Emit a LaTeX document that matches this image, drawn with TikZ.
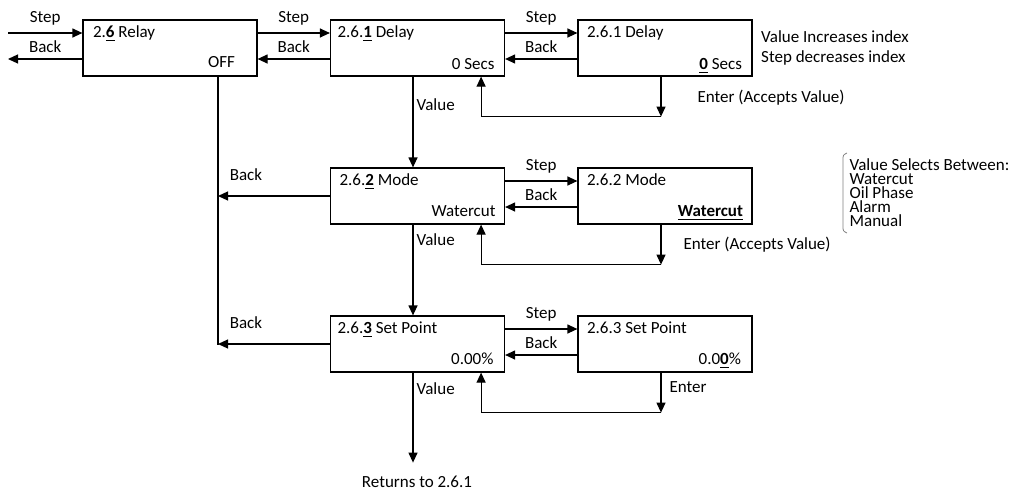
\documentclass[tikz,border=0pt]{standalone}
\usepackage{fontspec}
\setmainfont{Carlito}
\usetikzlibrary{arrows.meta}

% selected digit / field in a screen
\newcommand{\sel}[1]{\underline{\textbf{#1}}}

\tikzset{
  menubox/.style={draw, minimum width=87pt, minimum height=28pt, inner sep=0pt},
  title/.style={anchor=base west, inner sep=0pt},
  field/.style={anchor=base east, inner sep=0pt},
  steplbl/.style={midway, anchor=base, inner sep=0pt, yshift=5.25pt},
  backlbl/.style={midway, anchor=base, inner sep=0pt, yshift=3.5pt},
  note/.style={anchor=base west, inner sep=0pt},
}

\begin{document}
\begin{tikzpicture}[x=0.5pt, y=-0.5pt, line width=0.6pt,
    font=\fontsize{8.5}{10}\selectfont,
    >={Triangle[length=5pt,width=4.5pt]}]
	\useasboundingbox (0,0) rectangle (1021,493);

	% menu screens
	\node[menubox] (relay) at (170,48) {};
	\node[menubox] (delay) at (417.5,48) {};
	\node[menubox] (mode) at (417.5,196) {};
	\node[menubox] (setpt) at (417.5,344) {};
	% edit screens
	\node[menubox] (delayed) at (665,48) {};
	\node[menubox] (modeed) at (665,196) {};
	\node[menubox] (setpted) at (665,344) {};

	% screen texts
	\node[title] (relayt) at ([shift={(10,18)}]relay.north west) {2.\sel{6} Relay};
	\node[field] (relayv) at ([shift={(-22,-9)}]relay.south east) {OFF};
	\node[title] (delayt) at ([shift={(7,18)}]delay.north west) {2.6.\sel{1} Delay};
	\node[field] (delayv) at ([shift={(-10,-7)}]delay.south east) {0 Secs};
	\node[title] (delayedt) at ([shift={(9,18)}]delayed.north west) {2.6.1 Delay};
	\node[field] (delayedv) at ([shift={(-10,-7)}]delayed.south east) {\sel{0} Secs};
	\node[title] (modet) at ([shift={(9,18)}]mode.north west) {2.6.\sel{2} Mode};
	\node[field] (modev) at ([shift={(-9,-8)}]mode.south east) {Watercut};
	\node[title] (modeedt) at ([shift={(9,18)}]modeed.north west) {2.6.2 Mode};
	\node[field] (modeedv) at ([shift={(-9,-8)}]modeed.south east) {\sel{Watercut}};
	\node[title] (setptt) at ([shift={(7,18)}]setpt.north west) {2.6.\sel{3} Set Point};
	\node[field] (setptv) at ([shift={(-11,-8)}]setpt.south east) {0.00\%};
	\node[title] (setptedt) at ([shift={(9,18)}]setpted.north west) {2.6.3 Set Point};
	\node[field] (setptedv) at ([shift={(-11,-8)}]setpted.south east) {0.0\sel{0}\%};

	% entry into the relay menu
	\coordinate (stepin) at (8,33);
	\coordinate (backout) at (8,59);
	\draw[->] (stepin) -- (stepin -| relay.west) node[steplbl] {Step};
	\draw[->] (backout -| relay.west) -- (backout) node[backlbl] {Back};

	% step / back between screens
	\foreach \a/\b in {relay/delay, delay/delayed, mode/modeed, setpt/setpted} {
		\draw[->] ([yshift=7.5pt]\a.east) -- ([yshift=7.5pt]\b.west) node[steplbl] {Step};
		\draw[->] ([yshift=-5.5pt]\b.west) -- ([yshift=-5.5pt]\a.east) node[backlbl] {Back};
	}

	% value moves down the list
	\draw[->] ([xshift=-2.25pt]delay.south) -- ([xshift=-2.25pt]mode.north)
		node[pos=0.37, anchor=base west, inner sep=0pt, xshift=1.5pt] {Value};
	\draw[->] ([xshift=-2.25pt]mode.south) -- ([xshift=-2.25pt]setpt.north)
		node[pos=0.23, anchor=base west, inner sep=0pt, xshift=1.5pt] {Value};
	\draw[->] ([xshift=-2.25pt]setpt.south) -- ++(0,90) coordinate (retend)
		node[pos=0.24, anchor=base west, inner sep=0pt, xshift=1.5pt] {Value};
	\node[anchor=base, inner sep=0pt] (ret) at ([shift={(4,25)}]retend) {Returns to 2.6.1};

	% back to the relay screen
	\coordinate (bus) at (218,345);
	\draw ([xshift=24pt]relay.south) -- (bus);
	\draw[->] (mode.west) -- (mode.west -| bus) node[near end, anchor=base, inner sep=0pt, yshift=8pt] {Back};
	\draw[->] (setpt.west) -- (setpt.west -| bus) node[near end, anchor=base, inner sep=0pt, yshift=8pt] {Back};

	% enter loops
	\foreach \a/\b in {delayed/delay, modeed/mode, setpted/setpt} {
		\draw[->] ([xshift=-2pt]\a.south) -- ++(0,40) coordinate (\a enter);
		\draw[->] (\a enter) -| ([xshift=-12pt]\b.south east);
	}

	% notes
	\node[note] (hintval) at ([shift={(8,23)}]delayed.north east) {Value Increases index};
	\node[note] (hintstep) at ([shift={(8,43.5)}]delayed.north east) {Step decreases index};
	\node[note] (enter1) at ([shift={(32,26)}]delayed.south) {Enter (Accepts Value)};
	\node[note] (enter2) at ([shift={(18,25)}]modeed.south) {Enter (Accepts Value)};
	\node[note] (enter3) at ([shift={(4,20)}]setpted.south) {Enter};

	% list of modes
	\node[anchor=north west, align=left, inner sep=0pt, font=\fontsize{8.5}{7}\selectfont]
		(modes) at (849,158) {Value Selects Between:\\Watercut\\Oil Phase\\Alarm\\Manual};
	\draw[gray, line width=0.4pt] (847,153) .. controls (843,155) .. (843,160)
		-- (843,226) .. controls (843,231) .. (847,233);
\end{tikzpicture}
\end{document}
